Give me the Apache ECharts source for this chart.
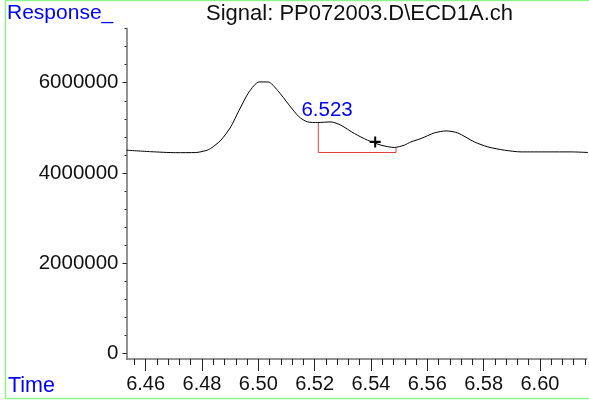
<!DOCTYPE html>
<html>
<head>
<meta charset="utf-8">
<script src="https://cdn.jsdelivr.net/npm/echarts@6/dist/echarts.min.js"></script>
<style>
html, body { margin: 0; padding: 0; background: #fff; }
#chart { width: 589px; height: 400px; }
</style>
</head>
<body>
<div id="chart"></div>
<script>
// Detector trace: retention time (min) and response
const signalTime = [
  6.4532, 6.4618, 6.4707, 6.4778, 6.4814, 6.4831, 6.4867, 6.4902, 6.4932, 6.4967,
  6.5003, 6.5035, 6.5068, 6.5110, 6.5145, 6.5175, 6.5211, 6.5258, 6.5293,
  6.5341, 6.5388, 6.5436, 6.5483, 6.5518, 6.5542, 6.5578, 6.5625, 6.5667,
  6.5708, 6.5767, 6.5815, 6.5874, 6.5933, 6.6028, 6.6111, 6.6171
];
const signalResp = [
  4504000, 4471000, 4449000, 4452000, 4495000, 4542000, 4725000, 5020000, 5390000, 5795000,
  6017000, 6017000, 5833000, 5501000, 5242000, 5131000, 5118000, 5131000, 5058000,
  4874000, 4725000, 4615000, 4564000, 4615000, 4688000, 4763000, 4887000, 4931000,
  4887000, 4688000, 4577000, 4504000, 4466000, 4466000, 4466000, 4453000
];

// Integration of the labelled peak
const peakTimes = [6.523];
const peakResp = [5125000];
const baselineTime = [6.5213, 6.5213, 6.5489, 6.5489];
const baselineResp = [5118000, 4453000, 4453000, 4564000];

// Cursor mark on the trace
const cursorTime = [6.5415];
const cursorResp = [4688000];

// Axis ticks
const xMajorTicks = [6.46, 6.48, 6.50, 6.52, 6.54, 6.56, 6.58, 6.60];
const yMajorTicks = [0, 2000000, 4000000, 6000000];
const xMinorTicks = [];
for (let i = 0; i <= 40; i++) xMinorTicks.push(+(6.456 + i * 0.004).toFixed(3));
const yMinorTicks = [];
for (let i = 0; i <= 18; i++) yMinorTicks.push(i * 400000);

const xRange = [6.4532, 6.6166];
const yRange = [-126000, 7200000];

const FONT = 'Liberation Sans, Arial, sans-serif';
const AXIS_COLOR = '#6e6e6e';
const BLUE = '#0000ff';

const chart = echarts.init(document.getElementById('chart'), null, { renderer: 'canvas' });

chart.setOption({
  animation: false,
  backgroundColor: '#fff',
  grid: { left: 126.5, right: 2.3, top: 28.6, bottom: 41 },
  xAxis: [
    {
      type: 'value', min: xRange[0], max: xRange[1],
      axisLine: { show: true, onZero: false, lineStyle: { color: AXIS_COLOR, width: 1.5 } },
      axisTick: { show: true, length: 12, customValues: xMajorTicks, lineStyle: { color: '#222', width: 1 } },
      axisLabel: {
        show: true, customValues: xMajorTicks, margin: 15,
        formatter: v => v.toFixed(2), fontFamily: FONT, fontSize: 20, color: '#111'
      },
      splitLine: { show: false }
    },
    {
      type: 'value', min: xRange[0], max: xRange[1], position: 'bottom',
      axisLine: { show: false, onZero: false },
      axisTick: { show: true, length: 6, customValues: xMinorTicks, lineStyle: { color: '#222', width: 1 } },
      axisLabel: { show: false },
      splitLine: { show: false }
    }
  ],
  yAxis: [
    {
      type: 'value', min: yRange[0], max: yRange[1],
      axisLine: { show: true, onZero: false, lineStyle: { color: AXIS_COLOR, width: 1.5 } },
      axisTick: { show: true, length: 4, customValues: yMajorTicks, lineStyle: { color: '#222', width: 1 } },
      axisLabel: {
        show: true, customValues: yMajorTicks, margin: 8,
        formatter: v => String(v), fontFamily: FONT, fontSize: 20.5, color: '#111'
      },
      splitLine: { show: false }
    },
    {
      type: 'value', min: yRange[0], max: yRange[1], position: 'left',
      axisLine: { show: false, onZero: false },
      axisTick: { show: true, length: 2, customValues: yMinorTicks, lineStyle: { color: '#222', width: 1 } },
      axisLabel: { show: false },
      splitLine: { show: false }
    }
  ],
  graphic: [
    {
      type: 'rect', silent: true, z: 0,
      shape: { x: 5.5, y: 0.5, width: 600, height: 398 },
      style: { fill: 'none', stroke: '#8cf58c', lineWidth: 1.5 }
    },
    {
      type: 'text', x: 7, y: 13.5,
      style: { text: 'Response_', fill: BLUE, font: '21px ' + FONT, textVerticalAlign: 'middle' }
    },
    {
      type: 'text', x: 8, y: 386.5,
      style: { text: 'Time', fill: BLUE, font: '21.5px ' + FONT, textVerticalAlign: 'middle' }
    },
    {
      type: 'text', x: 359.5, y: 14,
      style: {
        text: 'Signal: PP072003.D\\ECD1A.ch', fill: '#111', font: '22px ' + FONT,
        textAlign: 'center', textVerticalAlign: 'middle'
      }
    }
  ],
  series: [
    {
      name: 'signal', type: 'line', xAxisIndex: 0, yAxisIndex: 0,
      data: signalTime.map((t, i) => [t, signalResp[i]]),
      symbol: 'none', smooth: 0.25,
      lineStyle: { color: '#000', width: 1 }, z: 3
    },
    {
      name: 'baseline', type: 'line', xAxisIndex: 0, yAxisIndex: 0,
      data: baselineTime.map((t, i) => [t, baselineResp[i]]),
      symbol: 'none',
      lineStyle: { color: '#e63c3c', width: 1 }, z: 2
    },
    {
      name: 'peak', type: 'scatter', xAxisIndex: 0, yAxisIndex: 0,
      data: peakTimes.map((t, i) => [t, peakResp[i]]),
      symbolSize: 1, itemStyle: { color: 'rgba(0,0,0,0)', opacity: 1 },
      label: {
        show: true, position: 'top', distance: 1, offset: [4, 0],
        formatter: p => p.value[0].toFixed(3),
        color: BLUE, fontFamily: FONT, fontSize: 20.5
      }, z: 4
    },
    {
      name: 'cursor', type: 'scatter', xAxisIndex: 0, yAxisIndex: 0,
      data: cursorTime.map((t, i) => [t, cursorResp[i]]),
      symbol: 'path://M0,4H11V6H0Z M4.5,0H6.5V10H4.5Z',
      symbolSize: [11, 11], itemStyle: { color: '#000', opacity: 1 }, z: 5
    }
  ]
});
</script>
</body>
</html>
